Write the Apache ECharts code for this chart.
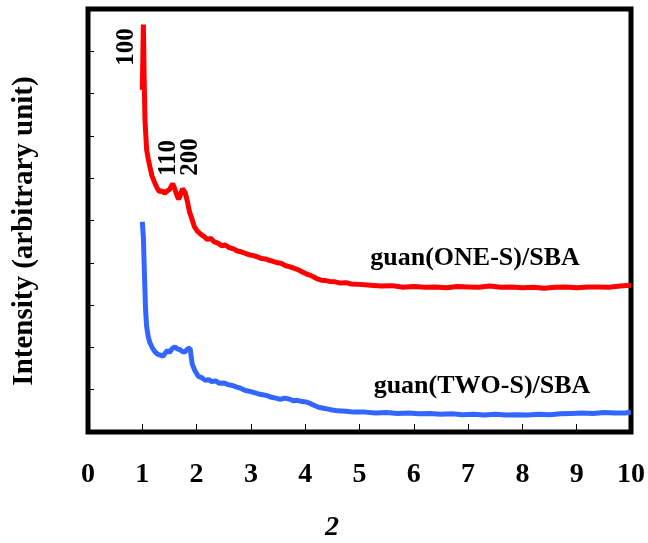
<!DOCTYPE html>
<html>
<head>
<meta charset="utf-8">
<script src="https://cdn.jsdelivr.net/npm/echarts@6/dist/echarts.min.js"></script>
<style>
html, body { margin: 0; padding: 0; background: #fff; }
#e_chart_1 { width: 648px; height: 543px; }
</style>
</head>
<body>
<div id="e_chart_1"></div>
<script>
var xTicks = [0, 1, 2, 3, 4, 5, 6, 7, 8, 9, 10];

// guan(ONE-S)/SBA  [2theta, intensity]
var oneS = [
	[1.00, 8.09], [1.02, 9.63], [1.035, 8.30], [1.05, 7.35], [1.08, 6.67],
	[1.11, 6.45], [1.14, 6.27], [1.18, 6.05], [1.23, 5.89], [1.28, 5.75],
	[1.32, 5.68], [1.37, 5.70], [1.41, 5.64], [1.46, 5.70], [1.50, 5.73],
	[1.56, 5.87], [1.60, 5.74], [1.63, 5.62], [1.67, 5.50], [1.70, 5.60],
	[1.74, 5.75], [1.79, 5.66], [1.83, 5.45], [1.87, 5.20], [1.91, 5.05],
	[1.96, 4.85], [2.02, 4.74], [2.08, 4.67], [2.14, 4.62], [2.20, 4.55],
	[2.26, 4.58], [2.32, 4.50], [2.40, 4.46], [2.47, 4.40], [2.53, 4.42],
	[2.60, 4.36], [2.68, 4.33], [2.75, 4.28], [2.82, 4.26], [2.90, 4.22],
	[2.97, 4.19], [3.05, 4.17], [3.12, 4.14], [3.20, 4.10], [3.27, 4.09],
	[3.34, 4.06], [3.42, 4.03], [3.50, 4.00], [3.57, 3.98], [3.64, 3.93],
	[3.71, 3.91], [3.80, 3.87], [3.88, 3.83], [3.95, 3.78], [4.02, 3.74],
	[4.08, 3.71], [4.15, 3.67], [4.22, 3.62], [4.30, 3.59], [4.38, 3.58],
	[4.45, 3.56], [4.55, 3.55], [4.65, 3.52], [4.75, 3.53], [4.85, 3.50],
	[5.00, 3.49], [5.20, 3.47], [5.40, 3.45], [5.60, 3.46], [5.80, 3.42],
	[6.00, 3.44], [6.20, 3.42], [6.40, 3.43], [6.60, 3.41], [6.80, 3.44],
	[7.00, 3.43], [7.20, 3.42], [7.40, 3.45], [7.60, 3.42], [7.80, 3.43],
	[8.00, 3.41], [8.20, 3.42], [8.40, 3.40], [8.60, 3.42], [8.80, 3.43],
	[9.00, 3.41], [9.20, 3.43], [9.40, 3.43], [9.60, 3.42], [9.80, 3.45],
	[10.00, 3.47]
];

// guan(TWO-S)/SBA
var twoS = [
	[1.00, 4.97], [1.02, 4.60], [1.04, 3.70], [1.06, 2.90], [1.08, 2.49],
	[1.11, 2.25], [1.14, 2.11], [1.19, 1.98], [1.23, 1.90], [1.28, 1.84],
	[1.33, 1.82], [1.38, 1.79], [1.42, 1.86], [1.46, 1.93], [1.50, 1.88],
	[1.55, 1.97], [1.60, 2.01], [1.65, 1.96], [1.69, 1.95], [1.74, 1.90],
	[1.78, 1.89], [1.84, 1.97], [1.88, 1.98], [1.92, 1.60], [1.97, 1.45],
	[2.03, 1.32], [2.10, 1.28], [2.16, 1.22], [2.22, 1.24], [2.28, 1.19],
	[2.35, 1.21], [2.42, 1.15], [2.50, 1.16], [2.58, 1.12], [2.66, 1.10],
	[2.74, 1.06], [2.82, 1.03], [2.90, 0.98], [2.98, 0.96], [3.06, 0.93],
	[3.14, 0.90], [3.22, 0.88], [3.30, 0.86], [3.38, 0.82], [3.46, 0.80],
	[3.54, 0.77], [3.62, 0.80], [3.70, 0.78], [3.78, 0.74], [3.86, 0.75],
	[3.94, 0.72], [4.02, 0.71], [4.10, 0.67], [4.18, 0.62], [4.26, 0.58],
	[4.34, 0.56], [4.42, 0.54], [4.50, 0.52], [4.60, 0.50], [4.75, 0.49],
	[4.90, 0.47], [5.10, 0.47], [5.30, 0.45], [5.50, 0.46], [5.70, 0.44],
	[5.90, 0.45], [6.10, 0.43], [6.30, 0.44], [6.50, 0.42], [6.70, 0.43],
	[6.90, 0.41], [7.10, 0.42], [7.30, 0.40], [7.50, 0.42], [7.70, 0.40],
	[7.90, 0.41], [8.10, 0.40], [8.30, 0.42], [8.50, 0.41], [8.70, 0.43],
	[8.90, 0.44], [9.10, 0.45], [9.30, 0.44], [9.50, 0.46], [9.70, 0.45],
	[9.90, 0.45], [10.00, 0.47]
];

var peakLabels = ['100', '110', '200'];
var seriesNames = ['guan(ONE-S)/SBA', 'guan(TWO-S)/SBA'];

var dom = document.getElementById("e_chart_1");
var myChart = echarts.init(dom);
var option = null;

var serif = "'Liberation Serif', 'Times New Roman', serif";

function txt(text, x, y, size, rot, italic) {
	return {
		type: 'text',
		x: x,
		y: y,
		rotation: rot || 0,
		style: {
			text: text,
			fill: '#000',
			font: (italic ? 'italic ' : '') + 'bold ' + size + 'px ' + serif,
			textAlign: 'center',
			textVerticalAlign: 'middle'
		}
	};
}

option = {
	backgroundColor: '#fff',
	animation: false,
	grid: {
		left: 88,
		right: 16,
		top: 9,
		bottom: 111,
		show: true,
		borderColor: '#000',
		borderWidth: 5
	},
	xAxis: {
		type: 'value',
		min: 0,
		max: 10,
		interval: 1,
		axisLine: { show: false },
		splitLine: { show: false },
		axisTick: {
			show: true,
			inside: true,
			length: 8,
			lineStyle: { color: '#000', width: 1 }
		},
		axisLabel: {
			margin: 29,
			color: '#000',
			fontSize: 28,
			fontWeight: 'bold',
			fontFamily: serif,
			formatter: function (v) {
				return xTicks.indexOf(v) >= 0 ? String(v) : '';
			}
		}
	},
	yAxis: {
		type: 'value',
		min: 0,
		max: 10,
		interval: 1,
		axisLine: { show: false },
		splitLine: { show: false },
		axisLabel: { show: false },
		axisTick: {
			show: true,
			inside: true,
			length: 6,
			lineStyle: { color: '#000', width: 1 }
		}
	},
	series: [{
		name: seriesNames[0],
		type: 'line',
		showSymbol: false,
		lineStyle: { color: '#ff0000', width: 5 },
		data: oneS
	}, {
		name: seriesNames[1],
		type: 'line',
		showSymbol: false,
		lineStyle: { color: '#3366ff', width: 5 },
		data: twoS
	}],
	graphic: [
		txt('Intensity (arbitrary unit)', 25, 231, 29, Math.PI / 2),
		txt('2', 332, 528, 28, 0, true),
		txt(peakLabels[0], 127, 47, 25, Math.PI / 2),
		txt(peakLabels[1], 169, 158, 25, Math.PI / 2),
		txt(peakLabels[2], 191, 157, 25, Math.PI / 2),
		txt(seriesNames[0], 475, 258, 26),
		txt(seriesNames[1], 482, 386, 26)
	]
};

if (option && typeof option === "object") {
	myChart.setOption(option, true);
}
</script>
</body>
</html>
